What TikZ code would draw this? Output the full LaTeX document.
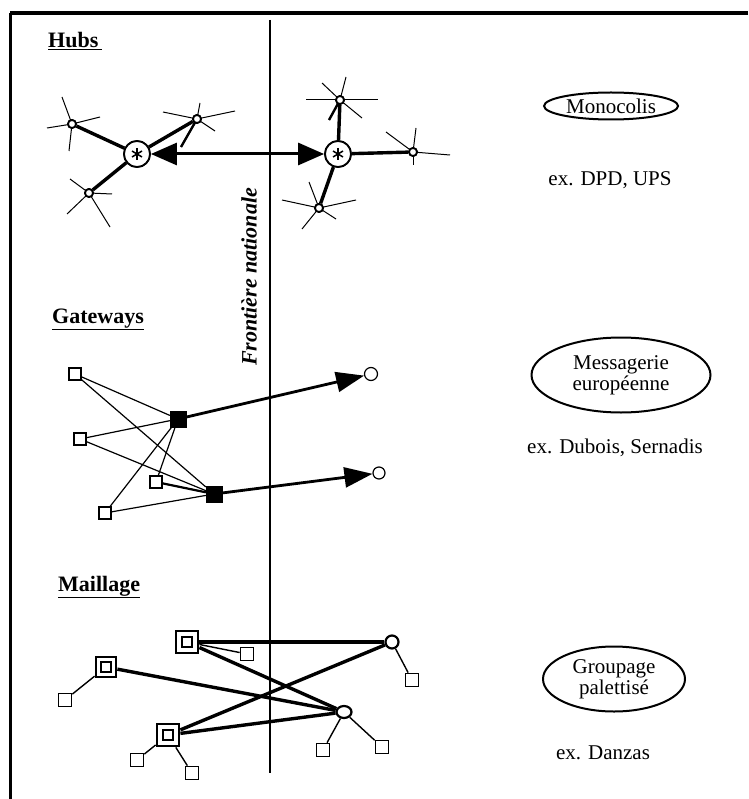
\documentclass[tikz,border=0pt]{standalone}
\usepackage{fontspec}
\setmainfont{Liberation Serif}
\usetikzlibrary{shapes.geometric,arrows.meta}
\begin{document}
\begin{tikzpicture}[x=1pt,y=-1pt,
  sat/.style={circle,draw,line width=1.8pt,minimum size=8pt,inner sep=0pt,fill=white},
  hub/.style={circle,draw,line width=1.8pt,minimum size=26pt,inner sep=0pt,fill=white},
  ray/.style={line width=1pt},
  hubline/.style={line width=3.4pt},
  osq/.style={rectangle,draw,line width=1.1pt,minimum size=12pt,inner sep=0pt,fill=white},
  fsq/.style={rectangle,draw,fill=black,minimum size=16pt,inner sep=0pt},
  gcirc/.style={circle,draw,line width=1.2pt,minimum size=13pt,inner sep=0pt,fill=white},
  thinline/.style={line width=1.2pt},
  garrow/.style={line width=2.8pt,-{Triangle[length=28pt,width=20pt]}},
  dsq/.style={rectangle,draw,line width=2.8pt,minimum size=22pt,inner sep=0pt,fill=white},
  isq/.style={rectangle,draw,line width=1.8pt,minimum size=10pt,inner sep=0pt},
  msq/.style={rectangle,draw,line width=1.7pt,minimum size=13pt,inner sep=0pt,fill=white},
  mcirc/.style={circle,draw,line width=2.2pt,minimum size=13pt,inner sep=0pt,fill=white},
  mline/.style={line width=3.4pt},
  mthin/.style={line width=1.4pt},
  header/.style={font=\fontsize{22}{24}\selectfont\bfseries,anchor=base west,inner sep=0pt},
  lbl/.style={font=\fontsize{21}{24}\selectfont,inner sep=0pt},
  oval/.style={ellipse,draw,line width=2pt,inner sep=0pt,font=\fontsize{21}{21}\selectfont,align=center}
]
\useasboundingbox (0,0) rectangle (748,799);
% frame
\coordinate (ftl) at (10,13);
\coordinate (ftr) at (748,13);
\coordinate (fbl) at (10,799);
\draw[line width=3.5pt] (ftr) -- (ftl);
\draw[line width=3pt] (ftl) -- (fbl);
% frontier
\coordinate (fr1) at (270,20);
\coordinate (fr2) at (270,773);
\draw[line width=1.8pt] (fr1) -- (fr2);
\node[rotate=90,font=\fontsize{22}{24}\selectfont\bfseries\itshape] (front) at (249,277) {Frontière nationale};

% headers
\node[header] (hHubs) at (48,48) {\underline{Hubs\,}};
\node[header] (hGate) at (52,323) {\underline{Gateways}};
\node[header] (hMail) at (58,591) {\underline{Maillage}};

% ---------- Hubs ----------
\node[hub] (H1) at (137,154) {};
\node[hub] (H2) at (338,154) {};
\node[sat] (L1) at (72,124) {};
\node[sat] (L2) at (197,119) {};
\node[sat] (L3) at (89,193) {};
\node[sat] (R1) at (340,100) {};
\node[sat] (R2) at (413,152) {};
\node[sat] (R3) at (319,208) {};
\foreach \dx/\dy in {-10/-27,-3/27,-25/4,28/-7} \draw[ray] (L1.center) -- ++(\dx,\dy);
\foreach \dx/\dy in {-34/-7,38/-8,3/-16,-16/28,18/12} \draw[ray] (L2.center) -- ++(\dx,\dy);
\foreach \dx/\dy in {-19/-14,21/34,23/1,-22/21} \draw[ray] (L3.center) -- ++(\dx,\dy);
\foreach \dx/\dy in {-34/0,38/0,-18/-17,22/18,6/-23,-11/20} \draw[ray] (R1.center) -- ++(\dx,\dy);
\foreach \dx/\dy in {-27/-20,37/3,3/-24,0/13} \draw[ray] (R2.center) -- ++(\dx,\dy);
\foreach \dx/\dy in {-37/-8,37/-8,-10/-26,17/11,-17/21} \draw[ray] (R3.center) -- ++(\dx,\dy);
\draw[line width=2.4pt] (L2.center) -- ++(-16,28);
\draw[line width=2.4pt] (R1.center) -- ++(-11,20);
\foreach \s in {L1,L2,L3} \draw[hubline] (H1) -- (\s);
\foreach \s in {R1,R2,R3} \draw[hubline] (H2) -- (\s);
\draw[line width=3pt,{Triangle[length=26pt,width=22pt]}-{Triangle[length=26pt,width=22pt]}] (H1) -- (H2);
% redraw nodes on top
\node[hub] at (H1) {};
\node[hub] at (H2) {};
\foreach \h in {H1,H2}{
  \draw[line width=1.5pt] (\h.center) ++(0,-6) -- ++(0,12);
  \draw[line width=1.5pt] (\h.center) ++(-5,-3) -- ++(10,6);
  \draw[line width=1.5pt] (\h.center) ++(-5,3) -- ++(10,-6);
}
\foreach \s in {L1,L2,L3,R1,R2,R3} \node[sat] at (\s) {};

% ---------- Gateways ----------
\node[osq] (GA) at (75,374) {};
\node[osq] (GB) at (80,439) {};
\node[osq] (GC) at (156,482) {};
\node[osq] (GD) at (105,513) {};
\node[fsq] (F1) at (178,419) {};
\node[fsq] (F2) at (214,494) {};
\node[gcirc] (C1) at (371,374) {};
\node[gcirc,minimum size=12pt] (C2) at (379,473) {};
\foreach \a in {GA,GB,GC,GD}{
  \draw[thinline] (\a) -- (F1);
  \draw[thinline] (\a) -- (F2);
}
\draw[line width=2.2pt] (GC) -- (F2);
\draw[garrow] (F1) -- (C1);
\draw[garrow] (F2) -- (C2);

% ---------- Maillage ----------
\node[dsq] (M1) at (187,642) {};
\node[dsq,minimum size=20pt] (M2) at (106,667) {};
\node[dsq] (M3) at (168,735) {};
\node[mcirc] (N1) at (392,642) {};
\node[mcirc,ellipse,minimum width=15pt,minimum height=12pt] (N2) at (344,712) {};
\node[msq] (S1) at (247,654) {};
\node[msq] (S2) at (65,700) {};
\node[msq] (S3) at (412,680) {};
\node[msq] (S4) at (323,750) {};
\node[msq] (S5) at (382,747) {};
\node[msq] (S6) at (137,760) {};
\node[msq] (S7) at (192,773) {};
\draw[mline] (M1) -- (N1);
\draw[mline] (M1) -- (N2);
\draw[mline] (M2) -- (N2);
\draw[mline] (M3) -- (N1);
\draw[mline] (M3) -- (N2);
\draw[mthin] (M1) -- (S1);
\draw[mthin] (M2) -- (S2);
\draw[mthin] (N1) -- (S3);
\draw[mthin] (N2) -- (S4);
\draw[mthin] (N2) -- (S5);
\draw[mthin] (M3) -- (S6);
\draw[mthin] (M3) -- (S7);
\foreach \m in {M1,M2,M3} \node[isq] at (\m) {};

% ---------- right column ----------
\node[oval,minimum width=134pt,minimum height=27pt] (o1) at (611,106) {Monocolis};
\node[lbl] (e1) at (610,180) {ex. DPD, UPS};
\node[oval,minimum width=179pt,minimum height=75pt] (o2) at (621,375) {Messagerie\\européenne};
\node[lbl] (e2) at (615,448) {ex. Dubois, Sernadis};
\node[oval,minimum width=142pt,minimum height=65pt] (o3) at (614,679) {Groupage\\palettisé};
\node[lbl] (e3) at (603,753) {ex. Danzas};
\end{tikzpicture}
\end{document}
